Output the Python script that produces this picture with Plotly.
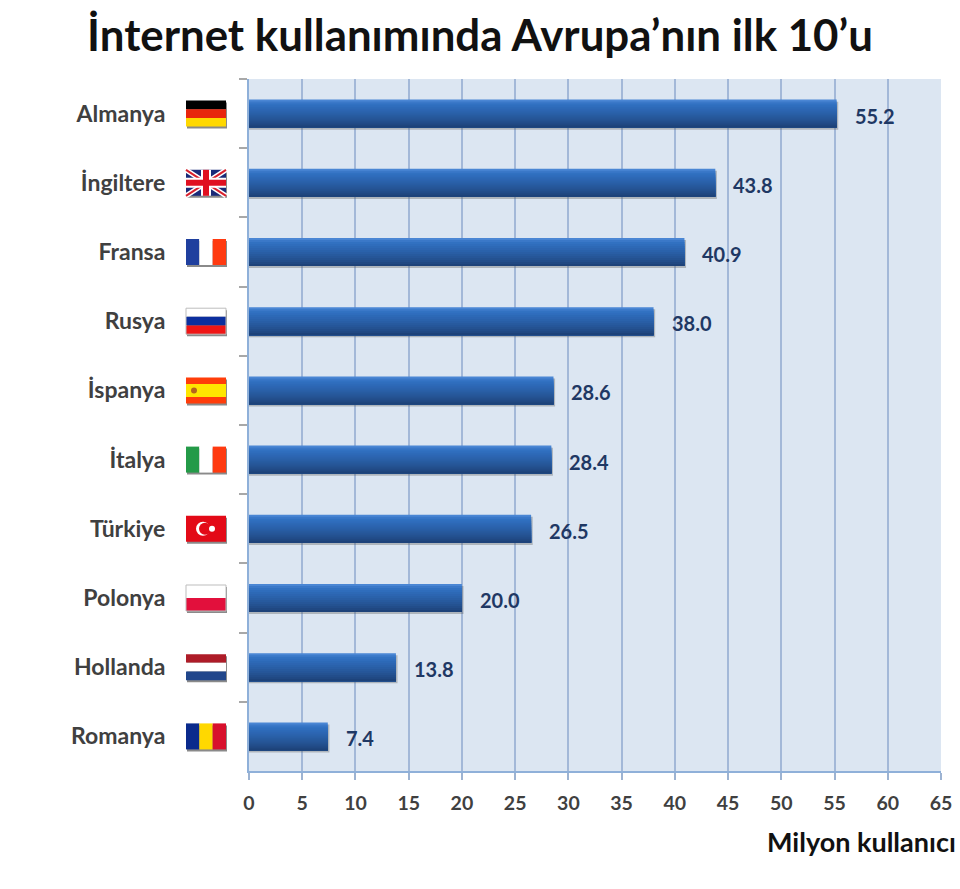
import plotly.graph_objects as go

countries = ["Almanya", "İngiltere", "Fransa", "Rusya", "İspanya", "İtalya", "Türkiye", "Polonya", "Hollanda", "Romanya"]
users = [55.2, 43.8, 40.9, 38.0, 28.6, 28.4, 26.5, 20.0, 13.8, 7.4]
x_ticks = list(range(0, 70, 5))

# horizontal stripes top to bottom, vertical ones left to right
stripes = {
    "Almanya": ("h", ["#000000", "#e8250c", "#ffd800"], [1, 1, 1]),
    "Fransa": ("v", ["#1f3f9e", "#ffffff", "#ff3a10"], [1, 1, 1]),
    "Rusya": ("h", ["#ffffff", "#0c2f9e", "#f01515"], [1, 1, 1]),
    "İspanya": ("h", ["#ff3d0a", "#ffe600", "#ff3d0a"], [1, 2, 1]),
    "İtalya": ("v", ["#249a48", "#ffffff", "#ff3a10"], [1, 1, 1]),
    "Türkiye": ("h", ["#e30a17"], [1]),
    "Polonya": ("h", ["#ffffff", "#e2103c"], [1, 1]),
    "Hollanda": ("h", ["#ae1c28", "#ffffff", "#21468b"], [1, 1, 1]),
    "Romanya": ("v", ["#0a2a8c", "#ffd800", "#d8102c"], [1, 1, 1]),
    "İngiltere": ("h", ["#1a2a78"], [1]),
}

PLOT_L, PLOT_R, PLOT_T, PLOT_B = 249, 941, 79, 771
FLAG_W, FLAG_H = 40, 26
flag_x = (206 - PLOT_L) / (PLOT_R - PLOT_L)


def px_shape(row, kind, x0, x1, y0, y1, **kw):
    # pixel sized shape, anchored at the flag centre of that row
    return dict(type=kind, xref="paper", yref="y", xsizemode="pixel", ysizemode="pixel",
                xanchor=flag_x, yanchor=row, x0=x0, x1=x1, y0=y0, y1=y1,
                line=kw.pop("line", dict(width=0)), **kw)


def flag_shapes(row, name):
    hw, hh = FLAG_W / 2, FLAG_H / 2
    out = [px_shape(row, "rect", -hw + 1, hw + 1, -hh - 2, hh - 2, fillcolor="#8a8a8a")]
    direction, colors, parts = stripes[name]
    total = sum(parts)
    pos = 0
    for c, p in zip(colors, parts):
        a, b = pos / total, (pos + p) / total
        if direction == "h":
            out.append(px_shape(row, "rect", -hw, hw, hh - b * FLAG_H, hh - a * FLAG_H, fillcolor=c))
        else:
            out.append(px_shape(row, "rect", -hw + a * FLAG_W, -hw + b * FLAG_W, -hh, hh, fillcolor=c))
        pos += p
    if name == "İngiltere":
        for y0, y1 in [(-hh, hh), (hh, -hh)]:
            out.append(px_shape(row, "line", -hw, hw, y0, y1, line=dict(color="#ffffff", width=5)))
            out.append(px_shape(row, "line", -hw, hw, y0, y1, line=dict(color="#d8202c", width=2)))
        out.append(px_shape(row, "rect", -hw, hw, -5, 5, fillcolor="#ffffff"))
        out.append(px_shape(row, "rect", -5, 5, -hh, hh, fillcolor="#ffffff"))
        out.append(px_shape(row, "rect", -hw, hw, -3, 3, fillcolor="#e01020"))
        out.append(px_shape(row, "rect", -3, 3, -hh, hh, fillcolor="#e01020"))
    if name == "İspanya":
        out.append(px_shape(row, "circle", -15, -9, -3, 3, fillcolor="#b5651d"))
    if name == "Türkiye":
        out.append(px_shape(row, "circle", -10, 4, -7, 7, fillcolor="#ffffff"))
        out.append(px_shape(row, "circle", -7, 5, -6, 6, fillcolor="#e30a17"))
        out.append(px_shape(row, "circle", 3, 9, -3, 3, fillcolor="#ffffff"))
    if name == "Rusya" or name == "Polonya":
        # white flags have a thin outline in the picture
        out.append(px_shape(row, "rect", -hw, hw, -hh, hh, line=dict(color="#bdbdbd", width=1)))
    return out


# gradient on the bars: each band runs to the bottom of the bar and covers the one before,
# so no seams show between them
band_colors = ["#4a86d4", "#3a78c8", "#3171c1", "#2f6dbc", "#2d69b6", "#2c65b1", "#2a62ab", "#295ea5",
               "#275a9e", "#265698", "#245291", "#224d8a", "#204882", "#1d4279"]
bar_w = 0.405
band_w = bar_w / len(band_colors)

fig = go.Figure()
fig.add_trace(go.Bar(x=[v + 0.15 for v in users], y=countries, orientation="h", width=bar_w, offset=-bar_w / 2 + 0.03,
                     marker=dict(color="rgba(90,90,90,0.35)", line=dict(width=0)), hoverinfo="skip"))
for i, c in enumerate(band_colors):
    fig.add_trace(go.Bar(x=users, y=countries, orientation="h", width=bar_w - i * band_w,
                         offset=-bar_w / 2 + i * band_w,
                         marker=dict(color=c, line=dict(width=0)), hoverinfo="skip"))

shapes = []
for row, name in enumerate(countries):
    shapes += flag_shapes(row, name)

notes = [dict(text="<b>Milyon kullanıcı</b>", xref="paper", yref="paper", x=1.0245, y=-0.102,
              xanchor="right", yanchor="middle", showarrow=False,
              font=dict(family="Lato", size=27, color="#111111"))]
for name, v in zip(countries, users):
    notes.append(dict(text="<b>%.1f</b>" % v, x=v, y=name, xref="x", yref="y", xanchor="left", yanchor="middle",
                      xshift=17, yshift=-2, showarrow=False, borderpad=0,
                      font=dict(family="Lato", size=20, color="#1f3864")))

fig.update_layout(
    width=960, height=889, autosize=False,
    margin=dict(l=PLOT_L, r=960 - PLOT_R, t=PLOT_T, b=889 - PLOT_B, pad=0, autoexpand=False),
    paper_bgcolor="#ffffff", plot_bgcolor="#dce6f2",
    barmode="overlay", showlegend=False, shapes=shapes, annotations=notes,
    font=dict(family="Lato"),
    title=dict(text="<b>İnternet kullanımında Avrupa’nın ilk 10’u</b>", x=0.5, xanchor="center",
               y=0.96, yanchor="middle", font=dict(family="Lato", size=43.8, color="#111111")),
    xaxis=dict(range=[0, 65], tickvals=x_ticks, showgrid=True, gridcolor="#a3b8d8", gridwidth=2,
               zeroline=False, showline=True, linecolor="#8fb0d9", linewidth=2,
               ticks="outside", ticklen=7, tickcolor="#9db3d2", tickwidth=2,
               tickfont=dict(family="Lato", size=19.5, color="#404040", weight="bold"), ticklabelstandoff=7),
    yaxis=dict(type="category", categoryorder="array", categoryarray=countries, range=[9.5, -0.5],
               tickson="boundaries", ticks="outside", ticklen=8, tickcolor="#a8a8a8", tickwidth=2,
               showgrid=False, zeroline=False, showline=True, linecolor="#8fb0d9", linewidth=2,
               tickfont=dict(family="Lato", size=23, color="#404040", weight="bold"), ticklabelstandoff=77),
)

fig.write_html("out.html", post_script="document.body.style.margin='0';", config={"displayModeBar": False})
